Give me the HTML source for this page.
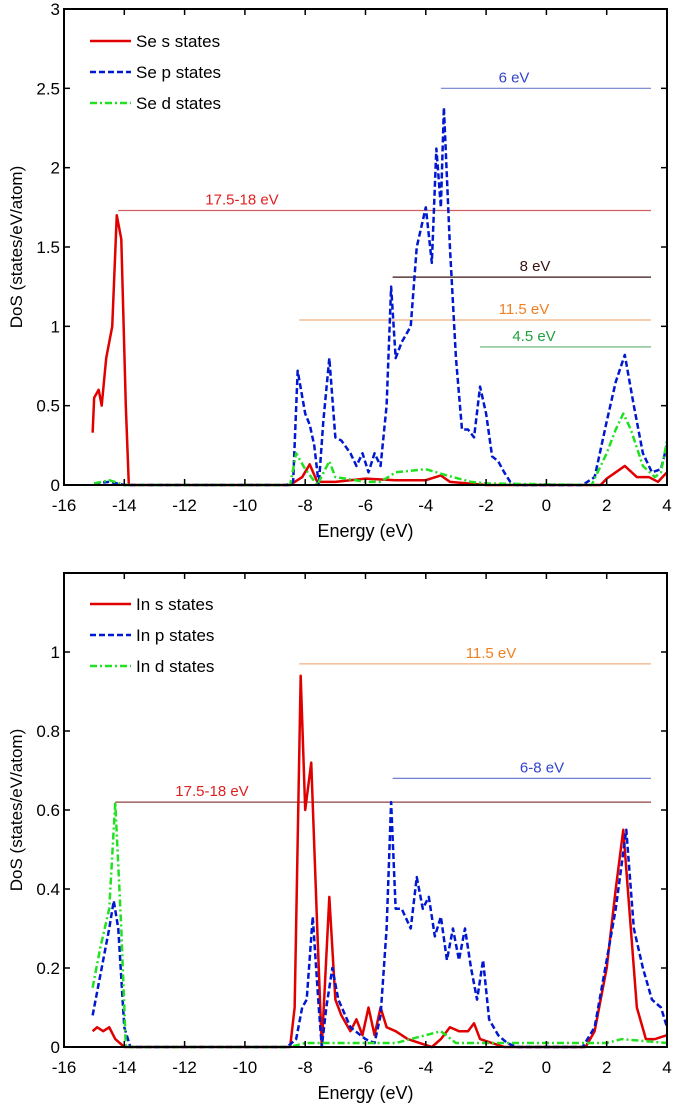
<!DOCTYPE html>
<html><head><meta charset="utf-8"><style>
body{margin:0;background:#fff}
svg text{font-family:"Liberation Sans",sans-serif}
</style></head><body>
<svg id="c" width="675" height="1110" xmlns="http://www.w3.org/2000/svg"></svg>
<script>
const xTicks=[-16,-14,-12,-10,-8,-6,-4,-2,0,2,4];
const yTicksTop=[0,0.5,1,1.5,2,2.5,3];
const yTicksBot=[0,0.2,0.4,0.6,0.8,1];
const seS=[[-15.05,0.33],[-15,0.55],[-14.85,0.6],[-14.75,0.5],[-14.6,0.8],[-14.4,1.0],[-14.25,1.7],[-14.1,1.55],[-13.95,0.5],[-13.85,0],[-8.5,0],[-8.1,0.05],[-7.85,0.13],[-7.6,0.02],[-7,0.02],[-6,0.04],[-5,0.03],[-4,0.03],[-3.5,0.06],[-3.2,0.02],[-2,0],[1.8,0],[2,0.04],[2.3,0.08],[2.6,0.12],[3,0.05],[3.4,0.05],[3.7,0.02],[4,0.08]];
const seP=[[-15,0.01],[-14.5,0.02],[-14,0],[-8.6,0],[-8.4,0.02],[-8.25,0.72],[-8,0.45],[-7.85,0.38],[-7.7,0.25],[-7.55,0],[-7.4,0.4],[-7.2,0.8],[-7,0.3],[-6.8,0.28],[-6.5,0.2],[-6.3,0.12],[-6.1,0.2],[-5.9,0.08],[-5.7,0.2],[-5.5,0.12],[-5.3,0.5],[-5.15,1.25],[-5,0.8],[-4.8,0.9],[-4.5,1.0],[-4.3,1.5],[-4,1.75],[-3.8,1.4],[-3.65,2.12],[-3.5,1.75],[-3.4,2.38],[-3.2,1.5],[-3,0.8],[-2.8,0.35],[-2.6,0.35],[-2.4,0.3],[-2.2,0.62],[-2,0.45],[-1.8,0.18],[-1.6,0.15],[-1.4,0.08],[-1.2,0.02],[-1,0],[1.2,0],[1.6,0.05],[2,0.4],[2.3,0.65],[2.6,0.82],[2.9,0.5],[3.2,0.2],[3.5,0.08],[3.8,0.1],[4,0.25]];
const seD=[[-15,0.01],[-14.5,0.03],[-14,0],[-8.5,0],[-8.3,0.2],[-8,0.1],[-7.6,0],[-7.2,0.15],[-7,0.05],[-6,0.02],[-5.5,0.02],[-5,0.08],[-4,0.1],[-3.3,0.06],[-2.5,0.02],[-2,0.01],[1.5,0],[2,0.2],[2.3,0.35],[2.55,0.45],[2.8,0.35],[3.2,0.12],[3.6,0.05],[3.8,0.08],[4,0.28]];
const inS=[[-15.05,0.04],[-14.9,0.05],[-14.7,0.04],[-14.5,0.05],[-14.3,0.02],[-14,0],[-8.5,0],[-8.35,0.1],[-8.15,0.94],[-8,0.6],[-7.8,0.72],[-7.6,0.3],[-7.45,0],[-7.2,0.38],[-7,0.12],[-6.8,0.08],[-6.5,0.04],[-6.3,0.07],[-6.1,0.03],[-5.9,0.1],[-5.7,0.03],[-5.5,0.1],[-5.3,0.05],[-5,0.04],[-4.6,0.02],[-4.2,0.01],[-3.8,0],[-3.5,0.02],[-3.2,0.05],[-2.9,0.04],[-2.6,0.04],[-2.4,0.06],[-2.2,0.02],[-1.8,0.01],[-1.4,0],[1.3,0],[1.6,0.04],[2,0.2],[2.3,0.4],[2.55,0.55],[2.8,0.3],[3,0.1],[3.3,0.02],[3.6,0.02],[4,0.03]];
const inP=[[-15.05,0.08],[-14.8,0.18],[-14.5,0.3],[-14.35,0.37],[-14.2,0.3],[-14,0.05],[-13.8,0],[-8.6,0],[-8.3,0.02],[-8.1,0.1],[-7.95,0.12],[-7.75,0.33],[-7.55,0.1],[-7.45,0],[-7.3,0.1],[-7.1,0.2],[-6.9,0.12],[-6.5,0.05],[-6,0.02],[-5.7,0.01],[-5.5,0.08],[-5.3,0.3],[-5.15,0.62],[-5,0.35],[-4.8,0.35],[-4.5,0.3],[-4.3,0.43],[-4.1,0.35],[-3.9,0.38],[-3.7,0.28],[-3.5,0.33],[-3.3,0.22],[-3.1,0.3],[-2.9,0.22],[-2.7,0.3],[-2.5,0.2],[-2.3,0.12],[-2.1,0.22],[-1.9,0.07],[-1.6,0.03],[-1.3,0.01],[-1,0],[1.2,0],[1.6,0.05],[2,0.22],[2.3,0.35],[2.65,0.55],[2.9,0.3],[3.2,0.2],[3.5,0.12],[3.8,0.1],[4,0.05]];
const inD=[[-15.05,0.15],[-14.8,0.25],[-14.5,0.35],[-14.3,0.62],[-14.1,0.3],[-13.95,0],[-13,0],[-8.5,0],[-8,0.01],[-5,0.01],[-4,0.03],[-3.5,0.04],[-3,0.01],[2,0.01],[2.5,0.02],[4,0.01]];
const refTopLabels=["17.5-18 eV","6 eV","8 eV","11.5 eV","4.5 eV"];
const refTopY=[1.73,2.5,1.31,1.04,0.87];
const refTopX0=[-14.2,-3.5,-5.1,-8.2,-2.2];
const refBotLabels=["11.5 eV","6-8 eV","17.5-18 eV"];
const refBotY=[0.97,0.68,0.62];
const refBotX0=[-8.2,-5.1,-14.3];
const refX1=3.47;

const NS="http://www.w3.org/2000/svg";
const svg=document.getElementById('c');
function mk(t,a,p){const e=document.createElementNS(NS,t);for(const k in a)e.setAttribute(k,a[k]);(p||svg).appendChild(e);return e;}
const L=64,R=667;
function xs(v){return L+(v+16)/20*(R-L);}
function panel(top,bot,ymax,yt,series,names,colors,dashes,leg,refs,name){
  const g=mk('g',{});
  
  
  const ys=v=>bot-v/ymax*(bot-top);
  refs.forEach(r=>{
    const ln=mk('line',{x1:xs(r.x0),x2:xs(refX1),y1:ys(r.y),y2:ys(r.y),stroke:r.lc||r.c,'stroke-width':1.2},g);
    
    
    const t=mk('text',{x:r.tx,y:ys(r.y)-6,'font-size':15,fill:r.c,'text-anchor':'middle'},g);
    t.textContent=r.l;
    
    
  });
  series.forEach((s,i)=>{
    const p=mk('polyline',{points:s.map(d=>xs(d[0])+','+ys(d[1])).join(' '),fill:'none',stroke:colors[i],'stroke-width':2.5,'stroke-dasharray':dashes[i],'stroke-linejoin':'round'},g);
    
    
  });
  const ax=mk('rect',{x:L,y:top,width:R-L,height:bot-top,fill:'none',stroke:'#000','stroke-width':2},g);
  
  
  xTicks.forEach(v=>{
    mk('line',{x1:xs(v),x2:xs(v),y1:bot,y2:bot-6,stroke:'#000','stroke-width':1.5},g);
    mk('line',{x1:xs(v),x2:xs(v),y1:top,y2:top+6,stroke:'#000','stroke-width':1.5},g);
    const t=mk('text',{x:xs(v),y:bot+26,'font-size':17,'text-anchor':'middle'},g);t.textContent=v;
    
    
  });
  yt.forEach(v=>{
    mk('line',{x1:L,x2:L+6,y1:ys(v),y2:ys(v),stroke:'#000','stroke-width':1.5},g);
    mk('line',{x1:R,x2:R-6,y1:ys(v),y2:ys(v),stroke:'#000','stroke-width':1.5},g);
    const t=mk('text',{x:L-4,y:ys(v)+6,'font-size':17,'text-anchor':'end'},g);t.textContent=v;
    
    
  });
  const xl=mk('text',{x:(L+R)/2,y:bot+52,'font-size':18,'text-anchor':'middle'},g);xl.textContent='Energy (eV)';
  
  
  const yl=mk('text',{x:0,y:0,'font-size':17,'text-anchor':'middle',transform:`translate(22,${(top+bot)/2}) rotate(-90)`},g);yl.textContent='DoS (states/eV/atom)';
  
  
  names.forEach((n,i)=>{
    const y=leg+i*31;
    const e=mk('g',{},g);
    
    
    mk('line',{x1:90,x2:131,y1:y,y2:y,stroke:colors[i],'stroke-width':2.5,'stroke-dasharray':dashes[i]},e);
    const t=mk('text',{x:136,y:y+6,'font-size':17},e);t.textContent=n;
  });
}
panel(9,485,3,yTicksTop,[seS,seP,seD],['Se s states','Se p states','Se d states'],['#e00000','#0018d0','#22e022'],['none','6,3','7,3,2,3'],41,
 [{l:refTopLabels[0],y:refTopY[0],x0:refTopX0[0],c:'#e02020',lc:'#d06060',tx:242},
  {l:refTopLabels[1],y:refTopY[1],x0:refTopX0[1],c:'#3344cc',lc:'#7080d0',tx:514},
  {l:refTopLabels[2],y:refTopY[2],x0:refTopX0[2],c:'#3a1010',tx:535},
  {l:refTopLabels[3],y:refTopY[3],x0:refTopX0[3],c:'#f08020',lc:'#f0b080',tx:524},
  {l:refTopLabels[4],y:refTopY[4],x0:refTopX0[4],c:'#20a040',lc:'#60b070',tx:534}],'top-panel-se');
panel(573,1047,1.2,yTicksBot,[inS,inP,inD],['In s states','In p states','In d states'],['#e00000','#0018d0','#22e022'],['none','6,3','7,3,2,3'],604,
 [{l:refBotLabels[0],y:refBotY[0],x0:refBotX0[0],c:'#f08020',lc:'#f0b080',tx:491},
  {l:refBotLabels[1],y:refBotY[1],x0:refBotX0[1],c:'#3344cc',lc:'#7080d0',tx:542},
  {l:refBotLabels[2],y:refBotY[2],x0:refBotX0[2],c:'#e02020',lc:'#904040',tx:212}],'bottom-panel-in');
</script>
</body></html>
